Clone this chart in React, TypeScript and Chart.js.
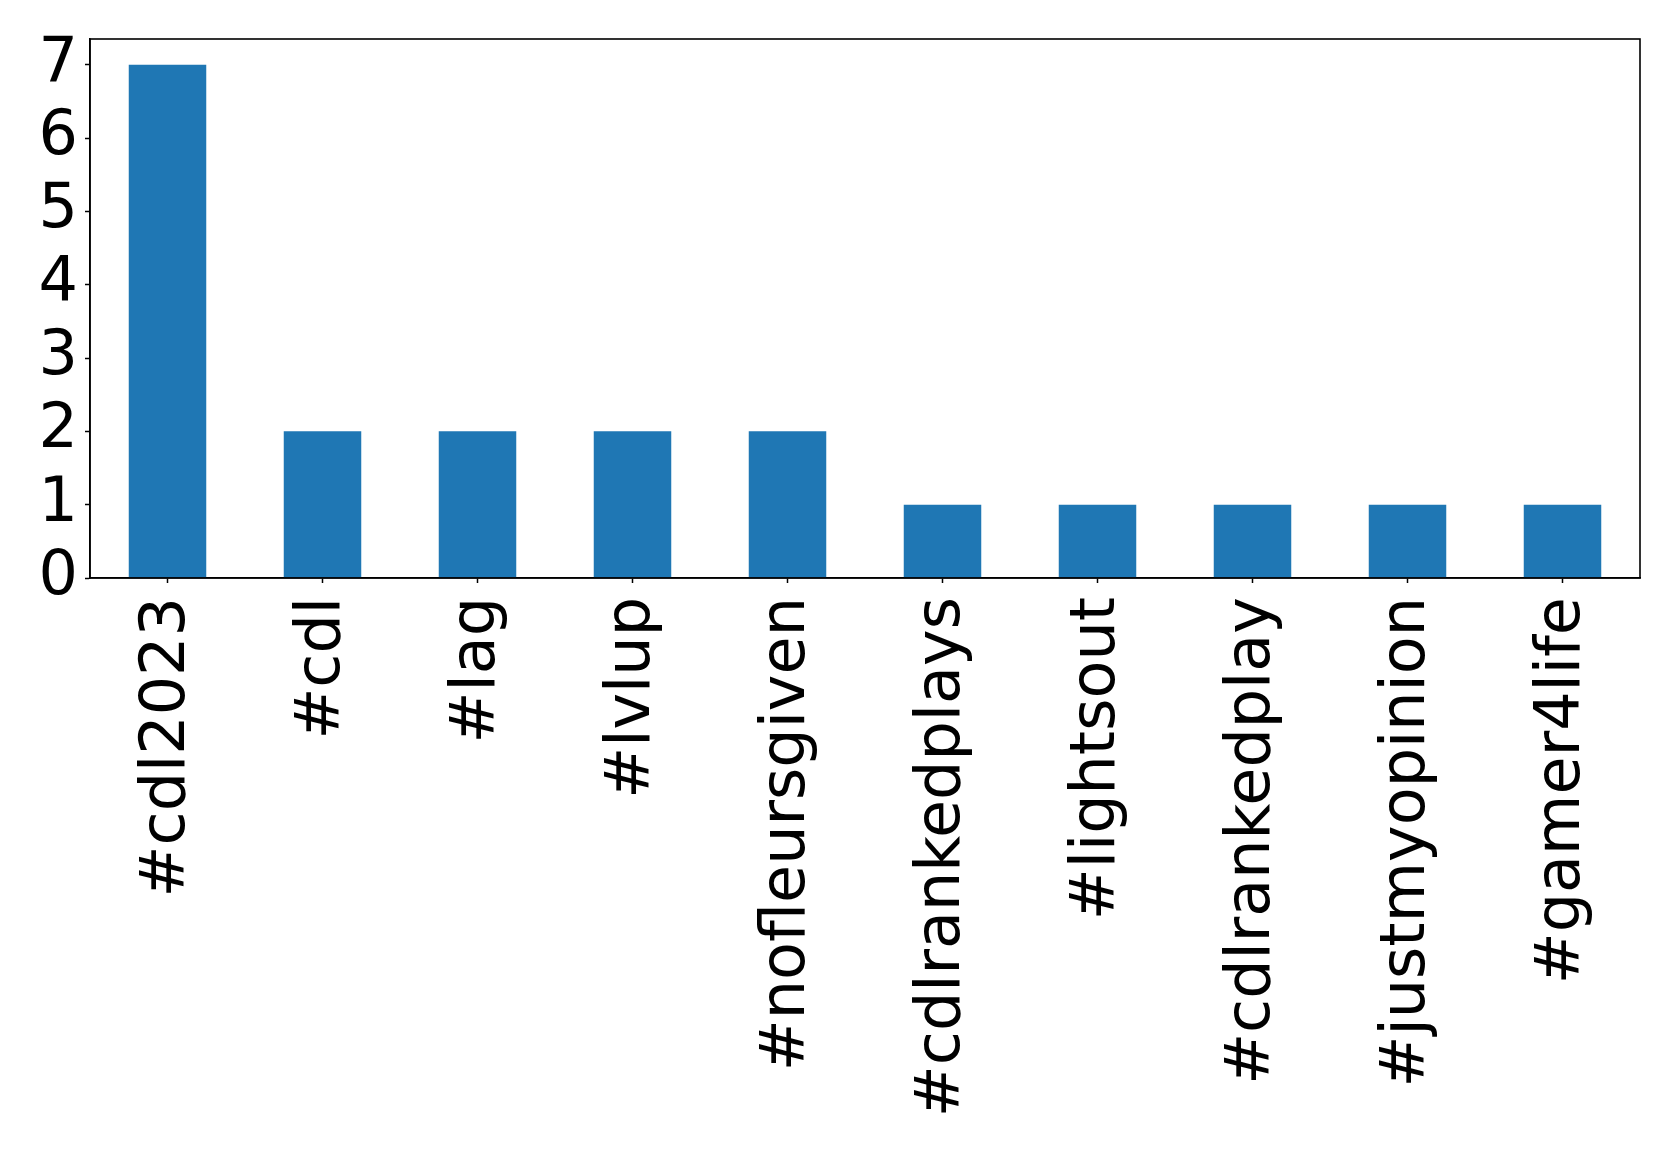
import React, { useEffect, useRef } from "react";
import { Chart, registerables } from "chart.js";

Chart.register(...registerables);

const categories: string[] = [
  "#cdl2023",
  "#cdl",
  "#lag",
  "#lvlup",
  "#nofleursgiven",
  "#cdlrankedplays",
  "#lightsout",
  "#cdlrankedplay",
  "#justmyopinion",
  "#gamer4life",
];
const counts: number[] = [7, 2, 2, 2, 2, 1, 1, 1, 1, 1];
const yMin = 0;
const yMax = 7.35;
const yStep = 1;

const W = 1679;
const H = 1152;
const PLOT_LEFT = 90;
const PLOT_TOP = 39;
const PLOT_RIGHT = 1640;
const PLOT_BOTTOM = 578;

const frame = {
  id: "frame",
  afterDatasetsDraw(chart: any) {
    const { ctx, chartArea } = chart;
    ctx.save();
    ctx.strokeStyle = "#000";
    ctx.lineWidth = 1.6;
    ctx.strokeRect(
      chartArea.left,
      chartArea.top,
      chartArea.right - chartArea.left,
      chartArea.bottom - chartArea.top
    );
    ctx.restore();
  },
};

export default function App() {
  const ref = useRef<HTMLCanvasElement | null>(null);
  useEffect(() => {
    if (!ref.current) return;
    const font = { family: "'DejaVu Sans', sans-serif", size: 62 };
    const chart = new Chart(ref.current, {
      type: "bar",
      data: {
        labels: categories,
        datasets: [
          {
            data: counts,
            backgroundColor: "#1f77b4",
            borderWidth: 0,
            barPercentage: 0.5,
            categoryPercentage: 1,
          },
        ],
      },
      options: {
        animation: false,
        responsive: false,
        devicePixelRatio: 1,
        layout: {
          padding: { left: 0, top: PLOT_TOP, right: W - PLOT_RIGHT, bottom: 0 },
        },
        plugins: {
          legend: { display: false },
          tooltip: { enabled: false },
          title: { display: false },
        },
        scales: {
          x: {
            type: "category",
            offset: true,
            grid: {
              display: true,
              offset: false,
              drawOnChartArea: false,
              drawTicks: true,
              tickLength: 5,
              tickColor: "#000",
              tickWidth: 1.5,
            },
            border: { display: true, color: "#000", width: 1.6 },
            ticks: {
              color: "#000",
              font,
              minRotation: 90,
              maxRotation: 90,
              autoSkip: false,
              padding: 14,
            },
            afterFit(scale: any) {
              scale.height = H - PLOT_BOTTOM;
              scale.paddingLeft = 0;
              scale.paddingRight = 0;
            },
          },
          y: {
            type: "linear",
            min: yMin,
            max: yMax,
            grid: {
              display: true,
              drawOnChartArea: false,
              drawTicks: true,
              tickLength: 5,
              tickColor: "#000",
              tickWidth: 1.5,
            },
            border: { display: true, color: "#000", width: 1.6 },
            ticks: {
              color: "#000",
              font,
              stepSize: yStep,
              includeBounds: false,
              autoSkip: false,
              padding: 7,
            },
            afterFit(scale: any) {
              scale.width = PLOT_LEFT;
              scale.paddingTop = 0;
              scale.paddingBottom = 0;
            },
          },
        },
      },
      plugins: [frame],
    });
    return () => chart.destroy();
  }, []);
  return (
    <div style={{ position: "absolute", left: 0, top: 0, width: W, height: H, background: "#fff" }}>
      <canvas ref={ref} width={W} height={H} style={{ width: W, height: H, display: "block" }} />
    </div>
  );
}
